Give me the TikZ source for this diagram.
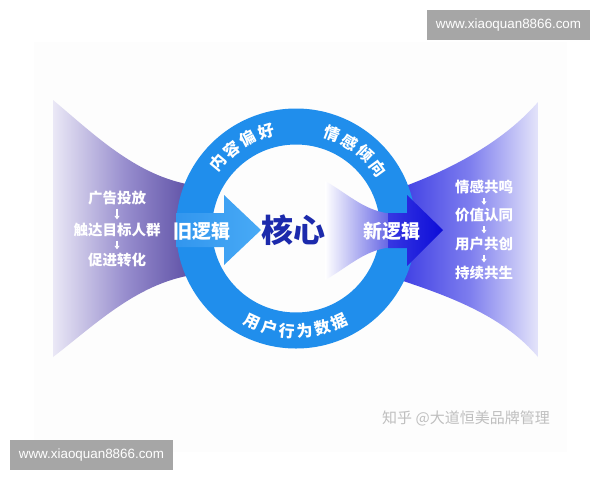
\documentclass[tikz,border=0pt]{standalone}
\usepackage{fontspec}
\newfontfamily\cjk{Noto Sans CJK SC}
\newfontfamily\wmfont{Liberation Sans}
\usetikzlibrary{arrows.meta}
\definecolor{ringc}{RGB}{32,142,236}
\definecolor{lfL}{RGB}{234,232,246}
\definecolor{lfM}{RGB}{150,140,205}
\definecolor{lfR}{RGB}{86,72,160}
\definecolor{rfL}{RGB}{62,62,228}
\definecolor{rfM}{RGB}{125,125,238}
\definecolor{rfR}{RGB}{228,228,250}
\definecolor{ifR}{RGB}{88,88,226}
\definecolor{darkA}{RGB}{12,12,216}
\definecolor{darkB}{RGB}{55,55,226}
\definecolor{lightA}{RGB}{50,150,238}
\definecolor{lightB}{RGB}{72,170,246}
\definecolor{corec}{RGB}{28,42,172}
\definecolor{wmgray}{RGB}{166,166,166}
\tikzset{
  listtxt/.style={text=white, font=\cjk\bfseries\fontsize{14.5}{16}\selectfont, inner sep=0pt},
  ringtxt/.style={text=white, font=\cjk\bfseries\fontsize{16}{18}\selectfont, inner sep=-1pt},
  logictxt/.style={text=white, font=\cjk\bfseries\fontsize{19}{21}\selectfont, inner sep=0pt},
  smallarr/.style={draw=white, line width=1.2pt, -{Triangle[width=5pt,length=3.5pt]}, shorten <=3.5pt, shorten >=3.5pt},
  wmbox/.style={fill=wmgray, text=white, font=\wmfont\fontsize{13.4}{15}\selectfont, minimum width=163pt, minimum height=30pt, inner sep=0pt}
}
\begin{document}
\begin{tikzpicture}[x=1pt,y=-1pt]
\useasboundingbox (0,0) rectangle (600,480);
\fill[white] (0,0) rectangle (600,480);
\fill[black!0.8] (34,42) rectangle (567,452);
% left funnel
\shade[left color=lfL, right color=lfR, middle color=lfM]
  (53,100) .. controls (95,135) and (140,180) .. (200,186) -- (200,274)
  .. controls (140,280) and (95,325) .. (53,357) -- cycle;
% right funnel
\shade[left color=rfL, right color=rfR, middle color=rfM]
  (400,188) .. controls (455,168) and (505,140) .. (538,102) -- (538,357)
  .. controls (505,318) and (455,298) .. (400,280) -- cycle;
% ring
\coordinate (c) at (296,228.5);
\fill[ringc, even odd rule] (c) circle (120pt) (c) circle (84pt);
% light arrow (old logic)
\shade[left color=lightA, right color=lightB]
  (176,213) -- (224,213) -- (224,195) -- (261,230) -- (224,265) -- (224,247) -- (176,247) -- cycle;
% inner funnel (to new logic)
\shade[left color=white, right color=ifR]
  (325,181) .. controls (350,195) and (365,212) .. (394,214) -- (394,247)
  .. controls (365,249) and (350,266) .. (325,280) -- cycle;
% dark arrow
\shade[left color=darkB, right color=darkA]
  (388,213) -- (407,213) -- (407,195) -- (443,230) -- (407,266) -- (407,248) -- (388,248) -- cycle;
% centre texts
\node[font=\cjk\bfseries\fontsize{32}{34}\selectfont, text=corec, inner sep=0pt] (core) at (293,230) {核心};
\node[logictxt] (old) at (202,231) {旧逻辑};
\node[logictxt] (new) at (392,231) {新逻辑};
% ring texts
\foreach \ch/\a [count=\i] in {内/140,容/129,偏/118,好/107}
  \path (c) ++(\a:102pt) node[ringtxt, rotate=\a-90] (ta\i) {\ch};
\foreach \ch/\a [count=\i] in {情/69,感/58,倾/47,向/36}
  \path (c) ++(\a:102pt) node[ringtxt, rotate=\a-90] (tb\i) {\ch};
\foreach \ch/\a [count=\i] in {用/-115,户/-105,行/-95,为/-85,数/-75,据/-65}
  \path (c) ++(\a:103pt) node[ringtxt, rotate=\a+90] (tc\i) {\ch};
% left list
\node[listtxt] (l1) at (117,198) {广告投放};
\node[listtxt] (l2) at (117,230) {触达目标人群};
\node[listtxt] (l3) at (117,260) {促进转化};
\draw[smallarr] (l1) -- (l2);
\draw[smallarr] (l2) -- (l3);
% right list
\node[listtxt] (r1) at (484,187) {情感共鸣};
\node[listtxt] (r2) at (484,215.5) {价值认同};
\node[listtxt] (r3) at (484,244) {用户共创};
\node[listtxt] (r4) at (484,273) {持续共生};
\draw[smallarr] (r1) -- (r2);
\draw[smallarr] (r2) -- (r3);
\draw[smallarr] (r3) -- (r4);
% credits and watermarks
\node[font=\cjk\fontsize{15}{17}\selectfont, text=black!25, anchor=west, inner sep=0pt] (zh) at (382,418) {知乎 @大道恒美品牌管理};
\node[wmbox] (wm1) at (508.5,25) {www.xiaoquan8866.com};
\node[wmbox] (wm2) at (91.5,455) {www.xiaoquan8866.com};
\end{tikzpicture}
\end{document}
